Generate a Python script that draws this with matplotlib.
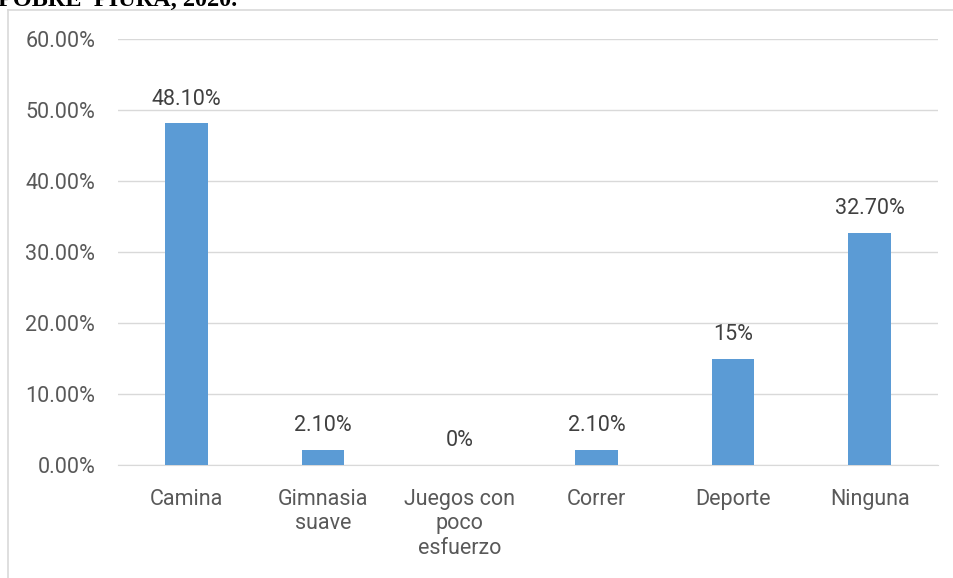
import matplotlib
matplotlib.use("Agg")
import matplotlib.pyplot as plt
from matplotlib.lines import Line2D
import numpy as np

categories = ["Camina", "Gimnasia\nsuave", "Juegos con\npoco\nesfuerzo", "Correr", "Deporte", "Ninguna"]
values = [0.481, 0.021, 0.0, 0.021, 0.15, 0.327]
labels = ["48.10%", "2.10%", "0%", "2.10%", "15%", "32.70%"]
yticks = [0.0, 0.1, 0.2, 0.3, 0.4, 0.5, 0.6]

plt.rcParams['font.family'] = ['Roboto', 'DejaVu Sans']
text_color = "#595959"
fs = 15.5

fig = plt.figure(figsize=(9.54, 5.78), dpi=100)
ax = fig.add_axes([118 / 954, 113 / 578, 820 / 954, 426 / 578])

x = np.arange(len(categories))
ax.bar(x, values, width=0.31, color="#5B9BD5", zorder=3)

for xi, v, lab in zip(x, values, labels):
    ax.annotate(lab, (xi, v), xytext=(0, 10), textcoords="offset points",
                ha="center", va="bottom", fontsize=fs, color="#404040")

ax.set_xlim(-0.5, len(categories) - 0.5)
ax.set_ylim(0, 0.6)
ax.set_yticks(yticks)
ax.set_yticklabels([f"{t * 100:.2f}%" for t in yticks], fontsize=fs, color=text_color)
ax.set_xticks(x)
ax.set_xticklabels(categories, fontsize=fs, color=text_color, linespacing=1.24, va="top")
ax.tick_params(axis="both", length=0)
ax.tick_params(axis="x", pad=17)
ax.tick_params(axis="y", pad=16.5)
ax.grid(axis="y", color="#D9D9D9", linewidth=1, zorder=0)
for s in ["top", "right", "left"]:
    ax.spines[s].set_visible(False)
ax.spines["bottom"].set_color("#D9D9D9")

# outer chart frame (only left and top visible in the crop)
fig.add_artist(Line2D([8.5 / 954, 8.5 / 954], [0, 568 / 578], color="#D9D9D9", lw=1.2, transform=fig.transFigure))
fig.add_artist(Line2D([8.5 / 954, 1], [568 / 578, 568 / 578], color="#D9D9D9", lw=1.2, transform=fig.transFigure))

# clipped caption from the document above the chart
fig.text(-2 / 954, 572 / 578, "POBRE  PIURA, 2020.", family="Liberation Serif",
         fontweight="bold", fontsize=17.5, color="black", ha="left", va="baseline")

fig.savefig("out.png", dpi=100)
